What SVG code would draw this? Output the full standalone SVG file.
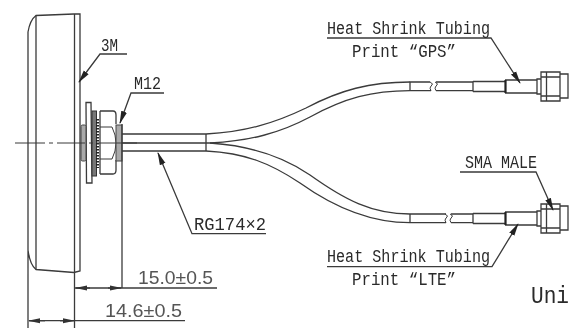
<svg xmlns="http://www.w3.org/2000/svg" width="572" height="328" viewBox="0 0 572 328">
<defs>
<filter id="f" x="-5%" y="-5%" width="110%" height="110%"><feGaussianBlur stdDeviation="0.35"/></filter>
<style>
g[id]{filter:url(#f)}
.l{fill:none;stroke:#3a3a3a;stroke-width:1.3}
.t{fill:none;stroke:#3a3a3a;stroke-width:1}
.k{fill:none;stroke:#222;stroke-width:2.2}
.m{font-family:"Liberation Mono",monospace;font-size:18px;fill:#2a2a2a}
.s{font-family:"Liberation Sans",sans-serif;font-size:18px;fill:#555}
</style>
<marker id="a" markerWidth="13" markerHeight="7" refX="12" refY="3.500" orient="auto" markerUnits="userSpaceOnUse"><path d="M0 0.500L13 3.500L0 6.500Z" fill="#222"/></marker>
<marker id="b" markerWidth="12" markerHeight="6" refX="11" refY="3" orient="auto" markerUnits="userSpaceOnUse"><path d="M0 0.500L12 3L0 5.500Z" fill="#333"/></marker>
</defs>
<rect width="572" height="328" fill="#fff"/>
<g id="antenna-body">
<path class="l" d="M28 328V32Q30 20 36 15.500L74 14H80V271L74 272.500L36 269.500Q30 265 28 250"/>
<path class="l" d="M36 15.500V269.500M74.500 14V328"/>
</g>
<g id="mount">
<path class="l" d="M86 102.500H91L92 183H86.500Z" fill="#fff"/>
<rect x="81" y="125" width="5" height="36" rx="1.500" fill="#aaa" stroke="#444"/>
<rect x="92" y="111" width="4.500" height="65" fill="#777" stroke="#333"/>
<path d="M97.500 119V168" stroke="#222" stroke-width="3" stroke-dasharray="1.500 1.500"/>
<path class="l" d="M100 111H113Q116 111 116 115V124M100 174H113Q116 174 116 170V160M100 111V174"/>
<path class="t" d="M100 127H112Q116 135 116 143Q116 151 112 159H100"/>
<rect x="116" y="125" width="6" height="36" fill="#aaa" stroke="#444"/>
<path class="l" d="M122 124V288"/>
</g>
<g id="cable">
<path class="l" d="M122 134H206M122 151H206M122 143H210M206 134V151"/>
<path class="l" d="M206 134C245 132 275 123 306 108C340 90 370 82 410 82M210 143C250 141 280 133 310 117C345 98 372 90.700 410 90.700"/>
<path class="l" d="M206 151C245 153 270 163 300 183C335 208 370 222.700 410 222.700M210 143C255 146 285 158 310 175C345 200 372 214 410 214"/>
</g>
<g id="gps-lead">
<path class="l" d="M410 81.500V91M410 82H430M410 90.700H431M436 82H473M436 90.700H473"/>
<path class="t" d="M430 82Q434 84 431 86Q429 88 431 90.700M435 82Q439 84 436 86Q434 88 436 90.700"/>
<path class="l" d="M473 81.500H505M473 91.500H505M473 81.500V91.500M505 80H537M505 93H537"/>
<path class="k" d="M505.500 80V93"/>
</g>
<g id="gps-connector">
<path class="l" d="M537 79H541V94H537ZM541 72H560V101H541ZM546.500 72V101M560 74H568V98H560ZM541 77H560M541 96H560"/>
</g>
<g id="lte-lead">
<path class="l" d="M410 214V223M410 214H446M410 222.700H446M451 214H473M451 222.700H473"/>
<path class="t" d="M445 214Q449 216 446 218Q444 220 446 222.700M450 214Q454 216 451 218Q449 220 451 222.700"/>
<path class="l" d="M473 213.500H505M473 223.500H505M473 213.500V223.500M505 212H537M505 225H537"/>
<path class="k" d="M505.500 212V225"/>
</g>
<g id="lte-connector">
<path class="l" d="M537 211H541V226H537ZM541 204H560V233H541ZM546.500 204V233M560 206H568V230H560ZM541 209H560M541 228H560"/>
</g>
<g id="connectors">
<path class="t" d="M15 143H45M49 143H53M57 143H85M89 143H93M97 143H137"/>
<path class="l" d="M127 54H100L79 82" marker-end="url(#a)"/>
<path class="l" d="M164 93H131L120 123" marker-end="url(#a)"/>
<path class="l" d="M266 233.700H192L158 153" marker-end="url(#a)"/>
<path class="l" d="M327 38H491L520 83" marker-end="url(#a)"/>
<path class="l" d="M327 266.700H492L518 224" marker-end="url(#a)"/>
<path class="l" d="M460 172H536L553 210" marker-end="url(#a)"/>
<path class="l" d="M217 288H75"/>
<path class="l" d="M185 320.700H29"/>
<path class="l" d="M90 288H76" marker-end="url(#b)"/>
<path class="l" d="M108 288H121" marker-end="url(#b)"/>
<path class="l" d="M45 320.700H29" marker-end="url(#b)"/>
<path class="l" d="M60 320.700H74" marker-end="url(#b)"/>
</g>
<g id="labels">
<text class="m" x="101" y="51" textLength="17" lengthAdjust="spacingAndGlyphs">3M</text>
<text class="m" x="134" y="89" textLength="27" lengthAdjust="spacingAndGlyphs">M12</text>
<text class="m" x="194" y="230" textLength="72" lengthAdjust="spacingAndGlyphs">RG174×2</text>
<text class="m" x="327" y="34" textLength="163" lengthAdjust="spacingAndGlyphs">Heat Shrink Tubing</text>
<text class="m" x="352" y="57" textLength="104" lengthAdjust="spacingAndGlyphs">Print “GPS”</text>
<text class="m" x="465" y="168" textLength="72" lengthAdjust="spacingAndGlyphs">SMA MALE</text>
<text class="m" x="327" y="262" textLength="163" lengthAdjust="spacingAndGlyphs">Heat Shrink Tubing</text>
<text class="m" x="352" y="285" textLength="104" lengthAdjust="spacingAndGlyphs">Print “LTE”</text>
<text class="s" x="138" y="284" textLength="75" lengthAdjust="spacingAndGlyphs">15.0±0.5</text>
<text class="s" x="105" y="316.700" textLength="77" lengthAdjust="spacingAndGlyphs">14.6±0.5</text>
<text x="531" y="303" textLength="38" lengthAdjust="spacingAndGlyphs" style="font-family:'Liberation Mono',monospace;font-size:24px;fill:#2a2a2a">Uni</text>
</g>
</svg>
